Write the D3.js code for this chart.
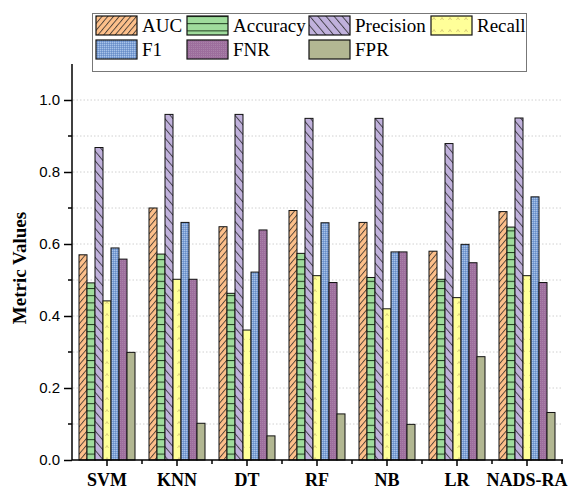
<!DOCTYPE html>
<html><head><meta charset="utf-8">
<script src="https://cdn.jsdelivr.net/npm/d3@7"></script>
<style>body{margin:0;background:#fff}svg{display:block}</style>
</head><body><svg id="c" width="568" height="490"></svg>
<script>
const categories = ["SVM","KNN","DT","RF","NB","LR","NADS-RA"];
const seriesNames = ["AUC","Accuracy","Precision","Recall","F1","FNR","FPR"];
const AUC       = [0.570,0.700,0.648,0.693,0.660,0.580,0.690];
const Accuracy  = [0.492,0.572,0.463,0.574,0.507,0.502,0.647];
const Precision = [0.868,0.960,0.960,0.949,0.949,0.879,0.950];
const Recall    = [0.442,0.502,0.361,0.512,0.420,0.451,0.512];
const F1        = [0.589,0.660,0.522,0.659,0.578,0.599,0.731];
const FNR       = [0.558,0.502,0.639,0.493,0.578,0.548,0.493];
const FPR       = [0.299,0.102,0.067,0.128,0.099,0.287,0.132];
const yTicks = [0.0,0.2,0.4,0.6,0.8,1.0];
const yMinorTicks = [0.1,0.3,0.5,0.7,0.9];
const gridValues = [0.1,0.2,0.3,0.4,0.5,0.6,0.7,0.8,0.9,1.0];

const values = {AUC, Accuracy, Precision, Recall, F1, FNR, FPR};
const svg = d3.select("#c");
const defs = svg.append("defs");

function pat(id, w, h, fill, transform){
  const p = defs.append("pattern").attr("id", id).attr("patternUnits","userSpaceOnUse")
    .attr("width", w).attr("height", h);
  if (transform) p.attr("patternTransform", transform);
  p.append("rect").attr("width", w).attr("height", h).attr("fill", fill);
  return p;
}
let p;
p = pat("pAUC", 4.4, 10, "#fdc08b", "rotate(40)");
p.append("line").attr("x1",0.5).attr("y1",0).attr("x2",0.5).attr("y2",10).attr("stroke","#222").attr("stroke-width",0.8);
p = pat("pAcc", 10, 7.2, "#9fdc9c");
p.append("line").attr("x1",0).attr("y1",0.5).attr("x2",10).attr("y2",0.5).attr("stroke","#1e3a1e").attr("stroke-width",1);
p = pat("pPre", 6.2, 10, "#c0b1dc", "rotate(-40)");
p.append("line").attr("x1",0.5).attr("y1",0).attr("x2",0.5).attr("y2",10).attr("stroke","#222").attr("stroke-width",0.8);
p = pat("pRec", 8, 12, "#ffff99");
p.append("path").attr("d","M1.5,4 L3,1.5 L4.5,4").attr("fill","none").attr("stroke","#c9b66a").attr("stroke-width",0.7);
p = pat("pF1", 2, 2, "#7ea2d6");
p.append("rect").attr("width",1).attr("height",1).attr("fill","#a9c3e8");
p.append("rect").attr("x",1).attr("y",1).attr("width",1).attr("height",1).attr("fill","#6a8ec8");
p = pat("pFNR", 2, 2, "#9d6e9d");
p.append("rect").attr("width",1).attr("height",1).attr("fill","#a982a9");
const fills = {AUC:"url(#pAUC)",Accuracy:"url(#pAcc)",Precision:"url(#pPre)",Recall:"url(#pRec)",F1:"url(#pF1)",FNR:"url(#pFNR)",FPR:"#b2b792"};

const x0 = d3.scaleBand().domain(categories).range([72,562]).paddingInner(0.2).paddingOuter(0.1);
const x1 = d3.scaleBand().domain(seriesNames).range([0, x0.bandwidth()]);
const y = d3.scaleLinear().domain([0,1.1]).range([460,64]);

svg.append("g").selectAll("line").data(gridValues).join("line")
  .attr("x1",73).attr("x2",562).attr("y1",d=>y(d)).attr("y2",d=>y(d))
  .attr("stroke","#d0d0d0").attr("stroke-width",1).attr("stroke-dasharray","1.5,2");

const rows = [];
categories.forEach((c,i)=>seriesNames.forEach(s=>rows.push({c,s,v:values[s][i]})));
svg.append("g").selectAll("rect").data(rows).join("rect")
  .attr("x",d=>x0(d.c)+x1(d.s)).attr("width",x1.bandwidth())
  .attr("y",d=>y(d.v)).attr("height",d=>y(0)-y(d.v))
  .attr("fill",d=>fills[d.s]).attr("stroke","#111").attr("stroke-width",1);

const ya = svg.append("g").attr("transform","translate(72,0)")
  .call(d3.axisLeft(y).tickValues(yTicks).tickFormat(d3.format(".1f")).tickSize(8).tickPadding(4));
ya.select(".domain").attr("d","M0,"+y(0)+"V"+y(1.1)).attr("stroke","#000").attr("stroke-width",1.5);
ya.selectAll(".tick line").attr("stroke","#000").attr("stroke-width",1.5);
ya.selectAll("text").attr("font-family","Liberation Sans, Arial").attr("font-size",15).attr("fill","#000");
svg.append("g").selectAll("line").data(yMinorTicks).join("line")
  .attr("x1",68).attr("x2",72).attr("y1",d=>y(d)).attr("y2",d=>y(d)).attr("stroke","#000").attr("stroke-width",1.5);

const xa = svg.append("g").attr("transform","translate(0,460)")
  .call(d3.axisBottom(x0).tickSize(6).tickPadding(7));
xa.select(".domain").attr("d","M72,0H563").attr("stroke","#000").attr("stroke-width",1.5);
xa.selectAll(".tick line").attr("stroke","#000").attr("stroke-width",1.5);
xa.selectAll("text").attr("font-family","Liberation Serif, Times New Roman").attr("font-weight","bold")
  .attr("font-size",18).attr("fill","#000");
const bounds = categories.slice(1).map(c=>x0(c)-x0.step()*x0.paddingInner()/2).concat([562]);
svg.append("g").selectAll("line").data(bounds).join("line")
  .attr("x1",d=>d).attr("x2",d=>d).attr("y1",460).attr("y2",464).attr("stroke","#000").attr("stroke-width",1.5);

svg.append("text").attr("transform","translate(26,268) rotate(-90)").attr("text-anchor","middle")
  .attr("font-family","Liberation Serif, Times New Roman").attr("font-weight","bold").attr("font-size",19)
  .text("Metric Values");

const lg = svg.append("g");
lg.append("rect").attr("x",92.5).attr("y",13.5).attr("width",434).attr("height",58)
  .attr("fill","#fff").attr("stroke","#777").attr("stroke-width",1);
const colX = [96,187,309,431];
const items = lg.selectAll("g.it").data(seriesNames).join("g").attr("class","it")
  .attr("transform",(d,i)=>`translate(${colX[i%4]},${i<4?16:40})`);
items.append("rect").attr("width",41).attr("height",19).attr("fill",d=>fills[d]).attr("stroke","#111").attr("stroke-width",1.2);
items.append("text").attr("x",46).attr("y",16).attr("font-family","Liberation Serif, Times New Roman")
  .attr("font-size",19).text(d=>d);
</script></body></html>
